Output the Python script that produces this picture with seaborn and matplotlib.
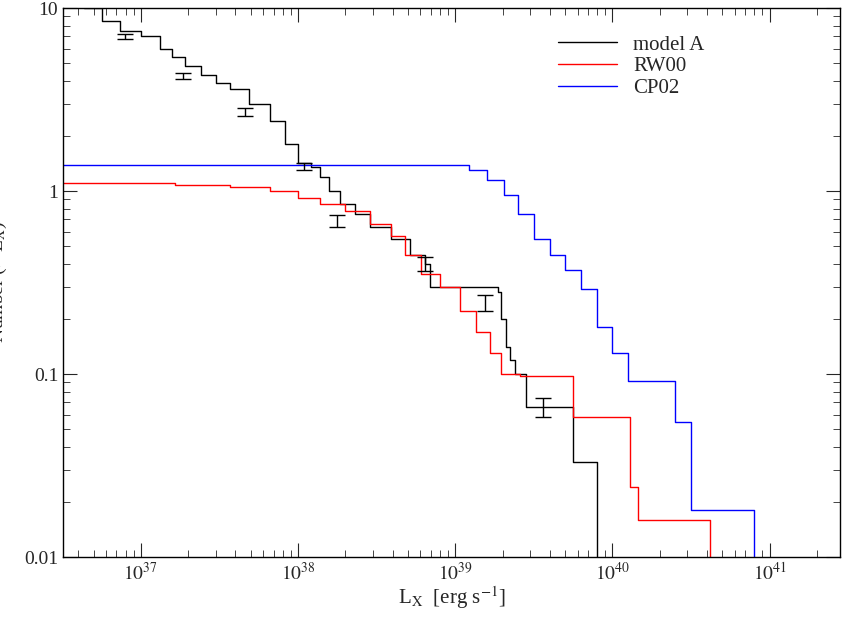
import numpy as np
import matplotlib
matplotlib.use("Agg")
import matplotlib.pyplot as plt
import seaborn as sns
from matplotlib.ticker import LogLocator, FixedLocator, FixedFormatter, NullFormatter

sns.set_style("ticks")
plt.rcParams['font.family'] = ['Liberation Serif', 'DejaVu Serif']
plt.rcParams['mathtext.fontset'] = 'stix'

# log10(L) and N(>L) step values (value holds from each x onward)
modelA_logL = [36.5, 36.64, 36.75, 36.87, 37.0, 37.12, 37.2, 37.28, 37.38, 37.48, 37.57, 37.69, 37.82, 37.92,
               38.0, 38.08, 38.14, 38.2, 38.27, 38.36, 38.46, 38.59, 38.71, 38.81, 38.84,
               39.1, 39.27, 39.29, 39.32, 39.35, 39.38, 39.45, 39.75, 39.9]
modelA_N = [11.0, 10.0, 8.5, 7.5, 7.0, 6.0, 5.4, 4.8, 4.3, 3.9, 3.6, 3.0, 2.4, 1.8,
            1.42, 1.35, 1.2, 1.0, 0.85, 0.75, 0.64, 0.55, 0.45, 0.4, 0.3,
            0.3, 0.28, 0.2, 0.14, 0.12, 0.1, 0.066, 0.033, 0.01]
rw_logL = [36.5, 37.22, 37.57, 37.82, 38.0, 38.14, 38.3, 38.46, 38.59, 38.68, 38.78, 38.9,
           39.03, 39.13, 39.22, 39.29, 39.41, 39.75, 40.11, 40.16, 40.62]
rw_N = [1.1, 1.08, 1.05, 1.0, 0.92, 0.85, 0.78, 0.66, 0.57, 0.45, 0.35, 0.3,
        0.22, 0.17, 0.13, 0.1, 0.098, 0.058, 0.024, 0.016, 0.01]
cp_logL = [36.5, 39.0, 39.09, 39.2, 39.31, 39.4, 39.5, 39.6, 39.7, 39.8, 39.9, 40.0, 40.1, 40.4, 40.5, 40.9]
cp_N = [1.38, 1.38, 1.3, 1.15, 0.95, 0.75, 0.55, 0.45, 0.37, 0.29, 0.18, 0.13, 0.092, 0.055, 0.018, 0.01]

err_logL = [36.9, 37.27, 37.66, 38.04, 38.25, 38.81, 39.19, 39.56]
err_N = [7.0, 4.25, 2.7, 1.37, 0.69, 0.4, 0.245, 0.066]
err_d = [0.25, 0.15, 0.13, 0.06, 0.05, 0.035, 0.025, 0.008]

fig = plt.figure(figsize=(8.45, 6.21), dpi=100)
ax = fig.add_axes([0.0746, 0.103, 0.9194, 0.884])

for lx, n, c, lab in [(modelA_logL, modelA_N, 'black', 'model A'),
                      (rw_logL, rw_N, 'red', 'RW00'),
                      (cp_logL, cp_N, 'blue', 'CP02')]:
    sns.lineplot(x=10 ** np.array(lx), y=n, color=c, lw=1, drawstyle='steps-post',
                 estimator=None, sort=False, ax=ax, label=lab)
    ax.plot([10 ** lx[-1]] * 2, [n[-1], 0.005], color=c, lw=1)

ax.errorbar(10 ** np.array(err_logL), err_N, yerr=err_d, fmt='none', ecolor='black',
            elinewidth=1, capsize=6)

ax.set_xscale('log'); ax.set_yscale('log')
ax.set_xlim(3.2e36, 2.8e41)
ax.set_ylim(0.01, 10)
ax.xaxis.set_major_locator(FixedLocator([1e37, 1e38, 1e39, 1e40, 1e41]))
ax.xaxis.set_major_formatter(FixedFormatter(['$10^{37}$', '$10^{38}$', '$10^{39}$', '$10^{40}$', '$10^{41}$']))
ax.xaxis.set_minor_locator(LogLocator(base=10, subs=np.arange(2, 10)))
ax.xaxis.set_minor_formatter(NullFormatter())
ax.yaxis.set_major_locator(FixedLocator([0.01, 0.1, 1, 10]))
ax.yaxis.set_major_formatter(FixedFormatter(['0.01', '0.1', '1', '10']))
ax.yaxis.set_minor_locator(FixedLocator([0.02, 0.03, 0.04, 0.05, 0.06, 0.07, 0.08, 0.09,
                                         0.2, 0.3, 0.4, 0.5, 0.6, 0.7, 0.8, 0.9,
                                         2, 3, 4, 5, 6, 7, 8, 9]))
ax.yaxis.set_minor_formatter(NullFormatter())
ax.tick_params(which='both', direction='in', top=True, right=True, labelsize=14)
ax.tick_params(which='major', length=10)
ax.tick_params(which='minor', length=5)
for s in ax.spines.values():
    s.set_linewidth(1); s.set_color('black')
ax.set_xlabel('L$_{\\mathrm{X}}$  [erg s$^{-1}$]', fontsize=15, labelpad=0)
ax.set_ylabel('Number (> L$_{\\mathrm{X}}$)', fontsize=14, labelpad=0)
ax.yaxis.set_label_coords(-0.07, 0.5)
ax.legend(loc='upper right', bbox_to_anchor=(0.85, 0.985), frameon=False, fontsize=15,
          handlelength=2.8, labelspacing=0.1)
fig.savefig('out.png', dpi=100)
